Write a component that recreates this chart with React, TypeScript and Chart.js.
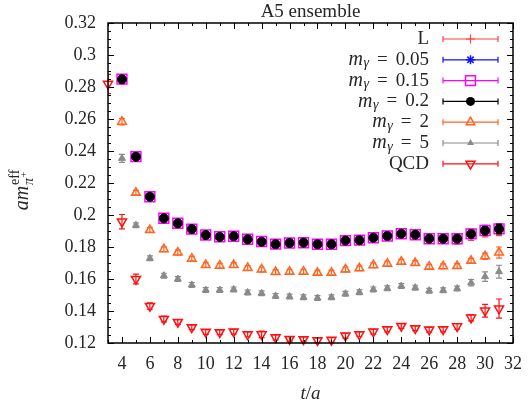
import React, { useEffect, useRef } from 'react';
import { Chart, registerables } from 'chart.js';

Chart.register(...registerables);

// ---- data ----
const T = [3, 4, 5, 6, 7, 8, 9, 10, 11, 12, 13, 14, 15, 16, 17, 18, 19, 20, 21, 22, 23, 24, 25, 26, 27, 28, 29, 30, 31];

const L_VAL = [null, 0.2845, 0.2362, 0.2112, 0.1975, 0.1944, 0.1908, 0.1872, 0.1861, 0.1865, 0.1846, 0.1832, 0.1818, 0.1826, 0.1828, 0.1816, 0.1815, 0.1838, 0.1840, 0.1856, 0.1866, 0.1881, 0.1875, 0.1850, 0.1850, 0.1848, 0.1877, 0.1898, 0.1906];
const L_ERR = [null, 0.0025, 0.002, 0.002, 0.0025, 0.0025, 0.0025, 0.0025, 0.0025, 0.002, 0.002, 0.002, 0.0025, 0.0025, 0.0025, 0.002, 0.002, 0.002, 0.0025, 0.0025, 0.002, 0.002, 0.002, 0.0025, 0.0025, 0.003, 0.0035, 0.0035, 0.0035];

const M005_VAL = [null, 0.2852, 0.2367, 0.2116, 0.1981, 0.1950, 0.1914, 0.1877, 0.1865, 0.1869, 0.1850, 0.1835, 0.1819, 0.1827, 0.1829, 0.1819, 0.1819, 0.1842, 0.1844, 0.1860, 0.1871, 0.1885, 0.1879, 0.1854, 0.1854, 0.1854, 0.1884, 0.1906, 0.1917];
const M005_ERR = [null, 0.002, 0.0015, 0.0015, 0.0015, 0.0015, 0.0015, 0.0015, 0.0015, 0.0015, 0.0015, 0.0015, 0.0015, 0.0015, 0.0015, 0.0015, 0.0015, 0.0015, 0.0015, 0.0015, 0.0015, 0.0015, 0.0015, 0.0015, 0.0015, 0.0015, 0.002, 0.003, 0.003];

const M015_VAL = [null, 0.2849, 0.2365, 0.2114, 0.1980, 0.1948, 0.1912, 0.1875, 0.1864, 0.1867, 0.1848, 0.1834, 0.1818, 0.1825, 0.1827, 0.1817, 0.1817, 0.1840, 0.1843, 0.1858, 0.1869, 0.1883, 0.1877, 0.1852, 0.1852, 0.1852, 0.1882, 0.1903, 0.1913];
const M015_ERR = [null, 0.002, 0.0015, 0.0015, 0.0015, 0.0015, 0.0015, 0.0015, 0.0015, 0.0015, 0.0015, 0.0015, 0.0015, 0.0015, 0.0015, 0.0015, 0.0015, 0.0015, 0.0015, 0.0015, 0.0015, 0.0015, 0.0015, 0.0015, 0.0015, 0.0015, 0.002, 0.0025, 0.0025];

const M02_VAL = [null, 0.2848, 0.2364, 0.2114, 0.1979, 0.1948, 0.1912, 0.1875, 0.1863, 0.1867, 0.1848, 0.1833, 0.1817, 0.1825, 0.1827, 0.1817, 0.1817, 0.1840, 0.1842, 0.1858, 0.1869, 0.1883, 0.1877, 0.1852, 0.1852, 0.1852, 0.1881, 0.1902, 0.1912];
const M02_ERR = [null, 0.002, 0.0015, 0.0015, 0.0015, 0.0015, 0.0015, 0.0015, 0.0015, 0.0015, 0.0015, 0.0015, 0.0015, 0.0015, 0.0015, 0.0015, 0.0015, 0.0015, 0.0015, 0.0015, 0.0015, 0.0015, 0.0015, 0.0015, 0.0015, 0.0015, 0.002, 0.0025, 0.003];

const M2_VAL = [null, 0.2583, 0.2139, 0.1906, 0.1786, 0.1765, 0.1727, 0.1687, 0.1683, 0.1687, 0.1669, 0.1660, 0.1644, 0.1646, 0.1646, 0.1639, 0.1639, 0.1660, 0.1667, 0.1686, 0.1696, 0.1708, 0.1700, 0.1677, 0.1679, 0.1681, 0.1714, 0.1742, 0.1765];
const M2_ERR = [null, 0.002, 0.0015, 0.0015, 0.0015, 0.0015, 0.0015, 0.0015, 0.0015, 0.0015, 0.0015, 0.0015, 0.0015, 0.0015, 0.0015, 0.0015, 0.0015, 0.0015, 0.0015, 0.0015, 0.0015, 0.0015, 0.0015, 0.0015, 0.0015, 0.0015, 0.0015, 0.002, 0.0035];

const M5_VAL = [null, 0.2354, 0.1936, 0.1729, 0.1621, 0.1600, 0.1563, 0.1531, 0.1531, 0.1535, 0.1515, 0.1511, 0.1494, 0.1490, 0.1486, 0.1481, 0.1486, 0.1508, 0.1517, 0.1535, 0.1542, 0.1556, 0.1546, 0.1527, 0.1529, 0.1540, 0.1577, 0.1615, 0.1646];
const M5_ERR = [null, 0.0025, 0.0015, 0.0015, 0.0015, 0.0015, 0.0015, 0.0015, 0.0015, 0.0015, 0.0015, 0.0015, 0.0015, 0.0015, 0.0015, 0.0015, 0.0015, 0.0015, 0.0015, 0.0015, 0.0015, 0.0015, 0.0015, 0.0015, 0.0015, 0.0015, 0.002, 0.003, 0.004];

const QCD_VAL = [0.2819, 0.1958, 0.1600, 0.1431, 0.1350, 0.1331, 0.1298, 0.1269, 0.1267, 0.1271, 0.1254, 0.1254, 0.1235, 0.1225, 0.1223, 0.1217, 0.1219, 0.1246, 0.1254, 0.1271, 0.1285, 0.1306, 0.1292, 0.1283, 0.1285, 0.1304, 0.1358, 0.1402, 0.1415];
const QCD_ERR = [0.006, 0.0045, 0.003, 0.002, 0.0018, 0.0015, 0.0015, 0.0015, 0.0015, 0.0015, 0.0015, 0.002, 0.0015, 0.0015, 0.0015, 0.0015, 0.0015, 0.0015, 0.0015, 0.0015, 0.0015, 0.0015, 0.0015, 0.0015, 0.0015, 0.0018, 0.002, 0.004, 0.006];

const X_TICKS = [4, 6, 8, 10, 12, 14, 16, 18, 20, 22, 24, 26, 28, 30, 32];
const Y_TICKS = [0.12, 0.14, 0.16, 0.18, 0.2, 0.22, 0.24, 0.26, 0.28, 0.3, 0.32];

const TITLE = 'A5 ensemble';

type Series = {
  key: string;
  sub: string | null;
  plain: string | null;
  color: string;
  style: string;
  radius: number;
  filled: boolean;
  rotation: number;
  width: number;
  vals: (number | null)[];
  errs: (number | null)[];
};

const SERIES: Series[] = [
  { key: 'L', sub: null, plain: 'L', color: '#ff4040', style: 'cross', radius: 4.5, filled: false, rotation: 0, width: 1.2, vals: L_VAL, errs: L_ERR },
  { key: 'm005', sub: '0.05', plain: null, color: '#1010ff', style: 'star', radius: 4.5, filled: false, rotation: 0, width: 1.5, vals: M005_VAL, errs: M005_ERR },
  { key: 'm015', sub: '0.15', plain: null, color: '#ff00ff', style: 'rect', radius: 7, filled: false, rotation: 0, width: 1.5, vals: M015_VAL, errs: M015_ERR },
  { key: 'm02', sub: '0.2', plain: null, color: '#000000', style: 'circle', radius: 4.5, filled: true, rotation: 0, width: 1, vals: M02_VAL, errs: M02_ERR },
  { key: 'm2', sub: '2', plain: null, color: '#ff6420', style: 'triangle', radius: 5, filled: false, rotation: 0, width: 1.5, vals: M2_VAL, errs: M2_ERR },
  { key: 'm5', sub: '5', plain: null, color: '#8a8a8a', style: 'triangle', radius: 4, filled: true, rotation: 0, width: 1, vals: M5_VAL, errs: M5_ERR },
  { key: 'QCD', sub: null, plain: 'QCD', color: '#ff1010', style: 'triangle', radius: 5.2, filled: false, rotation: 180, width: 1.5, vals: QCD_VAL, errs: QCD_ERR },
];

const SERIF = '"Liberation Serif", "DejaVu Serif", serif';
const TEXT_COLOR = '#262626';

function drawMarker(ctx: CanvasRenderingContext2D, s: Series, x: number, y: number) {
  ctx.save();
  ctx.strokeStyle = s.color;
  ctx.fillStyle = s.color;
  ctx.lineWidth = s.width;
  const r = s.radius;
  ctx.beginPath();
  if (s.style === 'circle') {
    ctx.arc(x, y, r, 0, Math.PI * 2);
    ctx.fill();
  } else if (s.style === 'rect') {
    const h = Math.SQRT1_2 * r;
    ctx.rect(x - h, y - h, 2 * h, 2 * h);
    ctx.stroke();
  } else if (s.style === 'cross' || s.style === 'star') {
    ctx.moveTo(x - r, y); ctx.lineTo(x + r, y);
    ctx.moveTo(x, y - r); ctx.lineTo(x, y + r);
    if (s.style === 'star') {
      const d = r * Math.SQRT1_2;
      ctx.moveTo(x - d, y - d); ctx.lineTo(x + d, y + d);
      ctx.moveTo(x - d, y + d); ctx.lineTo(x + d, y - d);
    }
    ctx.stroke();
  } else if (s.style === 'triangle') {
    let rad = (s.rotation * Math.PI) / 180;
    for (let k = 0; k < 3; k++) {
      const px = x + Math.sin(rad) * r;
      const py = y - Math.cos(rad) * r;
      if (k === 0) ctx.moveTo(px, py); else ctx.lineTo(px, py);
      rad += (2 * Math.PI) / 3;
    }
    ctx.closePath();
    if (s.filled) ctx.fill(); else ctx.stroke();
  }
  ctx.restore();
}

type Part = { text: string; font: string; dy: number; padL?: number; padR?: number };

function drawRich(ctx: CanvasRenderingContext2D, parts: Part[], x: number, y: number, align: 'right' | 'center') {
  let total = 0;
  const widths = parts.map((p) => {
    ctx.font = p.font;
    const w = ctx.measureText(p.text).width + (p.padL || 0) + (p.padR || 0);
    total += w;
    return w;
  });
  let cx = align === 'right' ? x - total : x - total / 2;
  ctx.textAlign = 'left';
  ctx.textBaseline = 'middle';
  parts.forEach((p, i) => {
    ctx.font = p.font;
    ctx.fillText(p.text, cx + (p.padL || 0), y + p.dy);
    cx += widths[i];
  });
}

const errorBarPlugin = {
  id: 'errorBars',
  beforeDatasetDraw(chart: any, args: any) {
    const i = args.index;
    const ds = chart.data.datasets[i];
    const meta = chart.getDatasetMeta(i);
    const y = chart.scales.y;
    const ctx = chart.ctx;
    const area = chart.chartArea;
    ctx.save();
    ctx.beginPath();
    ctx.rect(area.left, area.top, area.right - area.left, area.bottom - area.top);
    ctx.clip();
    ctx.strokeStyle = ds.borderColor;
    ctx.lineWidth = 1.2;
    ds.data.forEach((p: any, j: number) => {
      const el = meta.data[j];
      if (!el) return;
      const px = el.x;
      const yt = y.getPixelForValue(p.y + p.e);
      const yb = y.getPixelForValue(p.y - p.e);
      ctx.beginPath();
      ctx.moveTo(px, yt); ctx.lineTo(px, yb);
      ctx.moveTo(px - 3, yt); ctx.lineTo(px + 3, yt);
      ctx.moveTo(px - 3, yb); ctx.lineTo(px + 3, yb);
      ctx.stroke();
    });
    ctx.restore();
  },
};

const decorPlugin = {
  id: 'decor',
  afterDraw(chart: any) {
    const ctx: CanvasRenderingContext2D = chart.ctx;
    const { left, right, top, bottom } = chart.chartArea;
    const xs = chart.scales.x;
    const ys = chart.scales.y;
    ctx.save();
    ctx.strokeStyle = '#000';
    ctx.lineWidth = 1;
    for (let v = xs.min; v <= xs.max; v += 1) {
      const px = Math.round(xs.getPixelForValue(v)) + 0.5;
      const len = X_TICKS.includes(v) ? 6 : 3;
      ctx.beginPath();
      ctx.moveTo(px, bottom); ctx.lineTo(px, bottom - len);
      ctx.moveTo(px, top); ctx.lineTo(px, top + len);
      ctx.stroke();
    }
    for (let k = 0; k <= 40; k++) {
      const v = ys.min + k * 0.005;
      const py = Math.round(ys.getPixelForValue(v)) + 0.5;
      const len = k % 4 === 0 ? 6 : 3;
      ctx.beginPath();
      ctx.moveTo(left, py); ctx.lineTo(left + len, py);
      ctx.moveTo(right, py); ctx.lineTo(right - len, py);
      ctx.stroke();
    }
    ctx.lineWidth = 1.5;
    ctx.strokeRect(left, top, right - left, bottom - top);

    ctx.fillStyle = TEXT_COLOR;
    ctx.font = `19px ${SERIF}`;
    ctx.textAlign = 'center';
    ctx.textBaseline = 'middle';
    ctx.fillText(TITLE, (left + right) / 2, 12);

    drawRich(ctx, [
      { text: 't', font: `italic 19px ${SERIF}`, dy: 0 },
      { text: '/', font: `19px ${SERIF}`, dy: 0 },
      { text: 'a', font: `italic 19px ${SERIF}`, dy: 0 },
    ], (left + right) / 2, 394, 'center');

    ctx.save();
    ctx.translate(21, 190);
    ctx.rotate(-Math.PI / 2);
    ctx.fillStyle = TEXT_COLOR;
    const amFont = `italic 20px ${SERIF}`;
    ctx.font = amFont;
    const amW = ctx.measureText('am').width;
    ctx.font = `14px ${SERIF}`;
    const effW = ctx.measureText('eff').width;
    ctx.font = `italic 14px ${SERIF}`;
    const piW = ctx.measureText('π').width;
    const totalW = amW + 1 + Math.max(effW, piW + 7);
    let x0 = -totalW / 2;
    ctx.textAlign = 'left';
    ctx.textBaseline = 'middle';
    ctx.font = amFont;
    ctx.fillText('am', x0, 2);
    x0 += amW + 1;
    ctx.font = `14px ${SERIF}`;
    ctx.fillText('eff', x0, -6);
    ctx.font = `italic 14px ${SERIF}`;
    ctx.fillText('π', x0, 8);
    ctx.font = `10px ${SERIF}`;
    ctx.fillText('+', x0 + piW + 0.5, 3);
    ctx.restore();

    const rowY0 = 39;
    const rowH = 20.8;
    SERIES.forEach((s, i) => {
      const yy = rowY0 + i * rowH;
      ctx.fillStyle = TEXT_COLOR;
      if (s.plain) {
        drawRich(ctx, [{ text: s.plain, font: `19px ${SERIF}`, dy: 0 }], 429, yy, 'right');
      } else {
        drawRich(ctx, [
          { text: 'm', font: `italic 20px ${SERIF}`, dy: 0 },
          { text: 'γ', font: `italic 14px ${SERIF}`, dy: 4, padL: 0.5 },
          { text: '=', font: `19px ${SERIF}`, dy: 0, padL: 8, padR: 8 },
          { text: s.sub as string, font: `19px ${SERIF}`, dy: 0 },
        ], 429, yy, 'right');
      }
      ctx.strokeStyle = s.color;
      ctx.lineWidth = 1.2;
      ctx.beginPath();
      ctx.moveTo(443, yy); ctx.lineTo(498, yy);
      ctx.moveTo(443, yy - 3); ctx.lineTo(443, yy + 3);
      ctx.moveTo(498, yy - 3); ctx.lineTo(498, yy + 3);
      ctx.stroke();
      drawMarker(ctx, s, 470.5, yy);
    });
    ctx.restore();
  },
};

export default function App() {
  const ref = useRef<HTMLCanvasElement | null>(null);

  useEffect(() => {
    if (!ref.current) return;
    const datasets = SERIES.map((s, idx) => {
      const data: any[] = [];
      T.forEach((t, i) => {
        const v = s.vals[i];
        const e = s.errs[i];
        if (v !== null && v !== undefined) data.push({ x: t, y: v, e: e ?? 0 });
      });
      return {
        label: s.key,
        data,
        showLine: false,
        borderColor: s.color,
        backgroundColor: s.filled ? s.color : 'rgba(0,0,0,0)',
        pointStyle: s.style,
        pointRadius: s.radius,
        pointRotation: s.rotation,
        pointBorderWidth: s.width,
        pointHoverRadius: s.radius,
        order: SERIES.length - idx,
        clip: false as any,
      };
    });

    const chart = new Chart(ref.current, {
      type: 'scatter',
      data: { datasets },
      options: {
        animation: false,
        responsive: false,
        maintainAspectRatio: false,
        events: [],
        layout: { padding: { top: 23, right: 9, left: 0, bottom: 0 } },
        plugins: {
          legend: { display: false },
          tooltip: { enabled: false },
          title: { display: false },
        },
        scales: {
          x: {
            type: 'linear',
            min: 3,
            max: 32,
            grid: { display: false, drawTicks: false },
            border: { display: false },
            afterBuildTicks: (scale: any) => {
              scale.ticks = X_TICKS.map((v) => ({ value: v }));
            },
            afterFit: (scale: any) => {
              scale.height = 64;
            },
            ticks: {
              padding: 10,
              color: TEXT_COLOR,
              font: { family: SERIF, size: 18 },
              maxRotation: 0,
              autoSkip: false,
              callback: (v: any) => String(v),
            },
          },
          y: {
            type: 'linear',
            min: 0.12,
            max: 0.32,
            grid: { display: false, drawTicks: false },
            border: { display: false },
            afterBuildTicks: (scale: any) => {
              scale.ticks = Y_TICKS.map((v) => ({ value: v }));
            },
            afterFit: (scale: any) => {
              scale.width = 108;
            },
            ticks: {
              padding: 12,
              color: TEXT_COLOR,
              font: { family: SERIF, size: 18 },
              autoSkip: false,
              callback: (v: any) => String(Math.round(v * 100) / 100),
            },
          },
        },
      },
      plugins: [errorBarPlugin, decorPlugin],
    });
    return () => chart.destroy();
  }, []);

  return (
    <div style={{ position: 'fixed', left: 0, top: 0, width: 532, height: 407, background: '#fff' }}>
      <canvas ref={ref} width={532} height={407} style={{ display: 'block', width: 532, height: 407 }} />
    </div>
  );
}
